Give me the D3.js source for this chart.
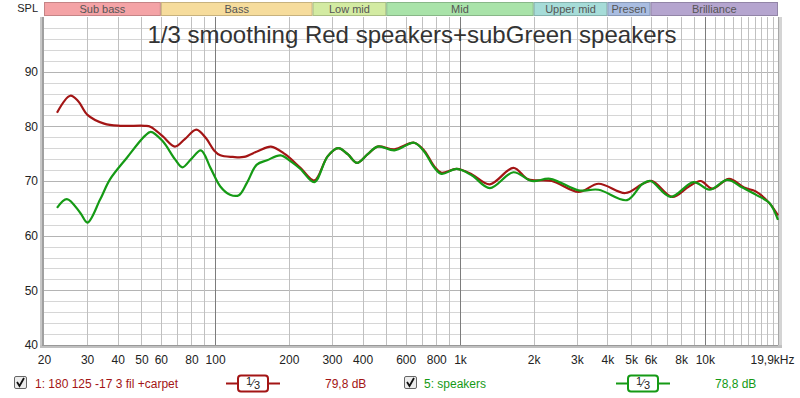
<!DOCTYPE html>
<html>
<head>
<meta charset="utf-8">
<script src="https://cdn.jsdelivr.net/npm/d3@7"></script>
<style>
  body { margin: 0; background: #fff; }
  svg text { font-family: "Liberation Sans", Arial, sans-serif; }
</style>
</head>
<body>
<div id="chart"></div>
<script>
// frequency bands along the top
const bandNames = ["Sub bass", "Bass", "Low mid", "Mid", "Upper mid", "Presen", "Brilliance"];
const bandEdges = [20, 60, 250, 500, 2000, 4000, 6000, 19900];
const bandColors = ["#f4a3a6", "#f6dc9c", "#d3eba2", "#a9e3a9", "#a6dcd8", "#a9bde1", "#b5a5cf"];

// tick labels
const xTicks = [20, 30, 40, 50, 60, 80, 100, 200, 300, 400, 600, 800, 1000, 2000, 3000, 4000, 5000, 6000, 8000, 10000, 19900];
const xTickLabels = ["20", "30", "40", "50", "60", "80", "100", "200", "300", "400", "600", "800", "1k", "2k", "3k", "4k", "5k", "6k", "8k", "10k", "19,9kHz"];
const yTicks = [40, 50, 60, 70, 80, 90];

// series 1 (red): "1: 180 125 -17 3 fil +carpet"
const redFreq = [22.6, 25.6, 27.6, 30.1, 35.2, 41, 51.5, 54.6, 61, 68.5, 75, 83.8, 91.5, 99, 105, 118, 131, 150, 169, 193, 223, 254, 288, 318, 348, 380, 420, 461, 540, 650, 716, 784, 840, 970, 1120, 1324, 1652, 1902, 2372, 3050, 3681, 4734, 5540, 6092, 7360, 8610, 9612, 10732, 12560, 14460, 16140, 18320, 19900];
const redDb = [82.5, 85.6, 84.6, 82.1, 80.5, 80.1, 80.1, 79.9, 78.2, 76.3, 77.6, 79.4, 77.9, 75.6, 74.7, 74.4, 74.4, 75.5, 76.3, 74.9, 72.4, 70.1, 74.5, 76, 74.9, 73.3, 74.9, 76.3, 75.8, 77, 75.5, 72.7, 71.5, 72.2, 71.2, 69.4, 72.4, 70.3, 70, 68, 69.5, 67.8, 69.4, 70, 67.1, 69, 70, 68.6, 70.4, 68.8, 68.1, 66, 63.7];

// series 5 (green): "5: speakers"
const greenFreq = [22.6, 24.8, 28.1, 30.1, 33.9, 37.2, 43.7, 51.5, 54.6, 61, 68.5, 73.5, 79.8, 87.5, 95.7, 105, 115, 125, 135, 148, 163, 185, 205, 223, 254, 288, 318, 348, 380, 420, 461, 540, 650, 716, 784, 840, 970, 1120, 1324, 1652, 1966, 2334, 3050, 3681, 4810, 5540, 5994, 7240, 9000, 10452, 12360, 14232, 16140, 18320, 19900];
const greenDb = [65.1, 66.7, 64.2, 62.4, 66.6, 70.3, 74.3, 78.2, 79.0, 77.3, 74, 72.5, 74, 75.6, 72.4, 69, 67.5, 67.4, 69.7, 73, 73.8, 74.7, 73.5, 72.2, 69.8, 74.5, 76, 74.9, 73.3, 74.9, 76.3, 75.6, 77, 75.3, 72.5, 71.3, 72.2, 71.0, 68.7, 71.6, 70, 70.4, 68.3, 68.4, 66.5, 69.4, 70, 67.1, 69.8, 68.4, 70.2, 68.8, 67.5, 66, 62.9];

const legendNames = ["1: 180 125 -17 3 fil +carpet", "5: speakers"];
const legendLevels = ["79,8 dB", "78,8 dB"];
const seriesColors = ["#a31515", "#159a15"];

const width = 800, height = 398;
const plotL = 44, plotR = 778, plotT = 17, plotB = 345;

const x = d3.scaleLog().domain([20, 19900]).range([plotL, plotR]);
const y = d3.scaleLinear().domain([40, 100]).range([plotB, plotT]);

const svg = d3.select("#chart")
    .append("svg")
    .attr("width", width)
    .attr("height", height);

// plot background
svg.append("rect")
    .attr("x", plotL).attr("y", plotT)
    .attr("width", plotR - plotL).attr("height", plotB - plotT)
    .attr("fill", "#fff");

// grid: horizontal every 2 dB, darker every 10
const hLines = d3.range(42, 100, 2);
svg.append("g")
    .selectAll("line")
    .data(hLines)
    .enter()
    .append("line")
    .attr("x1", plotL).attr("x2", plotR)
    .attr("y1", d => Math.round(y(d)) + 0.5).attr("y2", d => Math.round(y(d)) + 0.5)
    .attr("stroke", d => d % 10 == 0 ? "#b4b4b4" : "#d6d6d6")
    .attr("stroke-width", 1);

// grid: vertical 1-2-3..9 per decade, 11k..19k in the last one
const vLines = [];
[10, 100, 1000, 10000].forEach(dec => {
    for (let m = 1; m <= 9; m++) {
        const f = dec * m;
        if (f > 20 && f < 19900) vLines.push(f);
    }
});
for (let k = 11; k <= 19; k++) vLines.push(k * 1000);

svg.append("g")
    .selectAll("line")
    .data(vLines)
    .enter()
    .append("line")
    .attr("x1", d => Math.round(x(d)) + 0.5).attr("x2", d => Math.round(x(d)) + 0.5)
    .attr("y1", plotT).attr("y2", plotB)
    .attr("stroke", d => [100, 1000, 10000].includes(d) ? "#7c7c7c" : "#c0c0c0")
    .attr("stroke-width", 1);

// frame
svg.append("rect").attr("x", 40).attr("y", plotT).attr("width", 4).attr("height", plotB - plotT + 3).attr("fill", "#c8c8c8");
svg.append("rect").attr("x", 42).attr("y", plotT).attr("width", 2).attr("height", plotB - plotT + 3).attr("fill", "#a0a0a0");
svg.append("rect").attr("x", plotR).attr("y", plotT).attr("width", 4).attr("height", plotB - plotT + 3).attr("fill", "#d4d4d4");
svg.append("rect").attr("x", plotR).attr("y", plotT).attr("width", 1).attr("height", plotB - plotT).attr("fill", "#a8a8a8");
svg.append("rect").attr("x", 40).attr("y", plotB).attr("width", plotR - 40 + 4).attr("height", 3).attr("fill", "#c0c0c0");
svg.append("rect").attr("x", 42).attr("y", plotB).attr("width", plotR - 42).attr("height", 1).attr("fill", "#999");

// bands on top
const band = svg.append("g")
    .selectAll("g")
    .data(bandNames)
    .enter()
    .append("g");

band.append("rect")
    .attr("x", (d, i) => x(bandEdges[i]) + 0.5)
    .attr("y", 2.5)
    .attr("width", (d, i) => x(bandEdges[i + 1]) - x(bandEdges[i]) - 1)
    .attr("height", 13)
    .attr("fill", (d, i) => bandColors[i])
    .attr("stroke", (d, i) => d3.color(bandColors[i]).darker(0.6))
    .attr("stroke-width", 1);

band.append("text")
    .text(d => d)
    .attr("x", (d, i) => (x(bandEdges[i]) + x(bandEdges[i + 1])) / 2)
    .attr("y", 13)
    .style("font-size", "11px")
    .style("text-anchor", "middle")
    .attr("fill", "#555");

svg.append("text")
    .text("SPL")
    .attr("x", 38).attr("y", 12)
    .style("font-size", "11px")
    .style("text-anchor", "end")
    .attr("fill", "#222");

// title
svg.append("text")
    .text("1/3 smoothing Red speakers+subGreen speakers")
    .attr("x", 412).attr("y", 43)
    .style("font-size", "24px")
    .style("text-anchor", "middle")
    .attr("fill", "#333");

// axes
const xAxis = svg.append("g")
    .attr("transform", "translate(0," + (plotB + 5) + ")")
    .call(d3.axisBottom(x).tickValues(xTicks).tickSize(0).tickFormat((d, i) => xTickLabels[i]));
xAxis.select(".domain").remove();
xAxis.selectAll("text")
    .style("font-size", "12px")
    .attr("fill", "#222")
    .attr("dy", "0.95em");
xAxis.selectAll("text").filter((d, i) => i == xTicks.length - 1).attr("dx", "-6");

const yAxis = svg.append("g")
    .attr("transform", "translate(38,0)")
    .call(d3.axisLeft(y).tickValues(yTicks).tickSize(0));
yAxis.select(".domain").remove();
yAxis.selectAll("text")
    .style("font-size", "12px")
    .attr("fill", "#222")
    .attr("x", 0);

// curves
const line = d3.line()
    .x(d => x(d[0]))
    .y(d => y(d[1]))
    .curve(d3.curveCatmullRom.alpha(0.5));

const series = [
    d3.zip(redFreq, redDb),
    d3.zip(greenFreq, greenDb)
];

svg.append("g")
    .selectAll("path")
    .data(series)
    .enter()
    .append("path")
    .attr("d", line)
    .attr("fill", "none")
    .attr("stroke", (d, i) => seriesColors[i])
    .attr("stroke-width", 2.2)
    .attr("stroke-linejoin", "round");

// legend
const legendX = [14, 404];
const legend = svg.append("g")
    .selectAll("g")
    .data(legendNames)
    .enter()
    .append("g")
    .attr("transform", (d, i) => "translate(" + legendX[i] + ",0)");

legend.append("rect")
    .attr("x", 0.5).attr("y", 376.5)
    .attr("width", 12).attr("height", 12)
    .attr("rx", 1.5)
    .attr("fill", "#ececec")
    .attr("stroke", "#666");

legend.append("path")
    .attr("d", "M3,382 L5.5,386 L10,378")
    .attr("fill", "none")
    .attr("stroke", "#111")
    .attr("stroke-width", 1.8);

legend.append("text")
    .text(d => d)
    .attr("x", (d, i) => i == 0 ? 21 : 20)
    .attr("y", 388)
    .style("font-size", "12px")
    .attr("fill", (d, i) => seriesColors[i]);

legend.append("line")
    .attr("x1", 212)
    .attr("x2", 266)
    .attr("y1", 383.5).attr("y2", 383.5)
    .attr("stroke", (d, i) => seriesColors[i])
    .attr("stroke-width", 2);

legend.append("rect")
    .attr("x", 224).attr("y", 375.5)
    .attr("width", 30).attr("height", 16)
    .attr("rx", 3)
    .attr("fill", "#fff")
    .attr("stroke", (d, i) => seriesColors[i])
    .attr("stroke-width", 2);

const frac = legend.append("text")
    .attr("x", 239).attr("y", 387)
    .style("font-size", "11px")
    .style("text-anchor", "middle")
    .attr("fill", "#222");
frac.append("tspan").text("1").attr("dy", "-2");
frac.append("tspan").text("⁄").attr("dy", "2");
frac.append("tspan").text("3").attr("dy", "2");

legend.append("text")
    .text((d, i) => legendLevels[i])
    .attr("x", 311)
    .attr("y", 388)
    .style("font-size", "12px")
    .attr("fill", (d, i) => seriesColors[i]);
</script>
</body>
</html>
